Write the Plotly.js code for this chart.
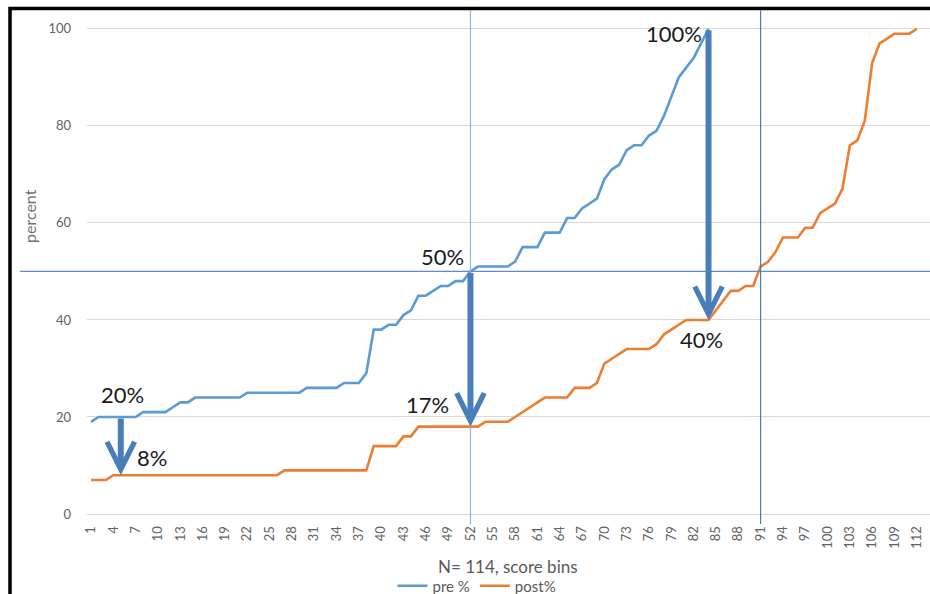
<!DOCTYPE html>
<html><head><meta charset="utf-8">
<script src="https://cdn.plot.ly/plotly-3.0.1.min.js"></script>
<style>html,body{margin:0;padding:0;background:#fff;}#chart{width:930px;height:594px;}</style>
</head><body><div id="chart"></div>
<script>
// ---- data ----
const bins = [1,2,3,4,5,6,7,8,9,10,11,12,13,14,15,16,17,18,19,20,21,22,23,24,25,26,27,28,29,30,31,32,33,34,35,36,37,38,39,40,41,42,43,44,45,46,47,48,49,50,51,52,53,54,55,56,57,58,59,60,61,62,63,64,65,66,67,68,69,70,71,72,73,74,75,76,77,78,79,80,81,82,83,84,85,86,87,88,89,90,91,92,93,94,95,96,97,98,99,100,101,102,103,104,105,106,107,108,109,110,111,112];
const pre = [19,20,20,20,20,20,20,21,21,21,
             21,22,23,23,24,24,24,24,24,24,
             24,25,25,25,25,25,25,25,25,26,
             26,26,26,26,27,27,27,29,38,38,
             39,39,41,42,45,45,46,47,47,48,
             48,50,51,51,51,51,51,52,55,55,
             55,58,58,58,61,61,63,64,65,69,
             71,72,75,76,76,78,79,82,86,90,
             92,94,97,100];
const post = [7,7,7,8,8,8,8,8,8,8,
              8,8,8,8,8,8,8,8,8,8,
              8,8,8,8,8,8,9,9,9,9,
              9,9,9,9,9,9,9,9,14,14,
              14,14,16,16,18,18,18,18,18,18,
              18,18,18,19,19,19,19,20,21,22,
              23,24,24,24,24,26,26,26,27,31,
              32,33,34,34,34,34,35,37,38,39,
              40,40,40,40,42,44,46,46,47,47,
              51,52,54,57,57,57,59,59,62,63,
              64,67,76,77,81,93,97,98,99,99,
              99,100];
const tickBins = [1,4,7,10,13,16,19,22,25,28,31,34,37,40,43,46,49,52,55,58,61,64,67,70,73,76,79,82,85,88,91,94,97,100,103,106,109,112];
const yTicks = [0,20,40,60,80,100];
const seriesNames = ['pre %','post%'];
const arrowBins = [5,52,84];
const tailLabels = ['20%','50%','100%'];
const headLabels = ['8%','17%','40%'];
const markBins = [52,91];
const midLevel = 50;
const xTitle = 'N= 114, score bins';
const yTitle = 'percent';

// ---- layout helpers ----
const L = 87, T = 24, B = 80, R = 0, W = 930, H = 594;
const plotH = H - T - B, plotW = W - L - R;
const px2paperX = p => (p - L) / plotW;
const px2paperY = p => (H - B - p) / plotH;

const tailShift = [[2,22],[-28,15],[-35,-5]];
const headShift = [[31,18],[-43,22],[-7,-20]];
const blue = '#4A7EBB';
const gray = '#626262';

const traces = [
  {x: bins.slice(0, pre.length), y: pre, name: seriesNames[0], type: 'scatter', mode: 'lines',
   line: {color: '#5B9BD5', width: 2.6}},
  {x: bins, y: post, name: seriesNames[1], type: 'scatter', mode: 'lines',
   line: {color: '#ED7D31', width: 2.6}}
];

const annotations = [];
arrowBins.forEach((b, i) => {
  const top = pre[b - 1], bot = post[b - 1];
  annotations.push({x: b, y: bot, ax: b, ay: top, xref: 'x', yref: 'y', axref: 'x', ayref: 'y',
    text: '', font: {size: 1}, showarrow: true, arrowhead: 5, arrowsize: 0.9, arrowwidth: 6,
    arrowcolor: blue, standoff: 0, startstandoff: 0});
  annotations.push({x: b, y: top, xref: 'x', yref: 'y', text: tailLabels[i], showarrow: false,
    xshift: tailShift[i][0], yshift: tailShift[i][1],
    font: {family: 'Lato', size: 22, color: '#1a1a1a'}});
  annotations.push({x: b, y: bot, xref: 'x', yref: 'y', text: headLabels[i], showarrow: false,
    xshift: headShift[i][0], yshift: headShift[i][1],
    font: {family: 'Lato', size: 22, color: '#1a1a1a'}});
});
annotations.push({xref: 'paper', yref: 'paper', x: px2paperX(29), y: px2paperY(216), text: yTitle,
  xanchor: 'center', yanchor: 'middle',
  textangle: -90, showarrow: false, font: {family: 'Lato', size: 16, color: '#707070'}});
annotations.push({xref: 'paper', yref: 'paper', x: px2paperX(508), y: px2paperY(566), text: xTitle,
  xanchor: 'center', yanchor: 'middle', borderpad: 0,
  showarrow: false, font: {family: 'Lato', size: 17, color: '#595959'}});

const shapes = [
  {type: 'rect', xref: 'paper', yref: 'paper', x0: px2paperX(10), x1: 1.3, y0: -0.5, y1: px2paperY(8.5),
   line: {color: '#000', width: 3.5}, fillcolor: 'rgba(0,0,0,0)'},
  {type: 'line', xref: 'paper', yref: 'y', x0: px2paperX(20), x1: 1.05, y0: midLevel, y1: midLevel,
   line: {color: '#5B8BD0', width: 1.2}},
  {type: 'line', xref: 'x', yref: 'paper', x0: markBins[0], x1: markBins[0], y0: px2paperY(524), y1: px2paperY(10),
   line: {color: '#8EB4E3', width: 1.2}},
  {type: 'line', xref: 'x', yref: 'paper', x0: markBins[1], x1: markBins[1], y0: px2paperY(524), y1: px2paperY(10),
   line: {color: '#4A7EBB', width: 1.2}}
];

const layout = {
  width: W, height: H,
  margin: {l: L, r: R, t: T, b: B, autoexpand: false},
  paper_bgcolor: '#fff', plot_bgcolor: '#fff',
  showlegend: true,
  legend: {orientation: 'h', x: px2paperX(477), xanchor: 'center', y: px2paperY(586), yanchor: 'middle',
    font: {family: 'Lato', size: 15, color: '#595959'}, bgcolor: 'rgba(0,0,0,0)', tracegroupgap: 0,
    itemwidth: 30},
  xaxis: {range: [0.46, 113.77], tickmode: 'array', tickvals: tickBins, ticktext: tickBins.map(String),
    tickangle: -90, showgrid: false, zeroline: false, showline: true, linecolor: '#d9d9d9', linewidth: 1,
    ticks: '', tickfont: {family: 'Lato', size: 13, color: gray}, ticklabelstandoff: 6, fixedrange: true},
  yaxis: {range: [0, 101], tickmode: 'array', tickvals: yTicks, showgrid: true, gridcolor: '#d9d9d9', gridwidth: 1,
    zeroline: false, showline: false, ticks: '', tickfont: {family: 'Lato', size: 13, color: gray},
    ticklabelstandoff: 15, fixedrange: true},
  annotations: annotations,
  shapes: shapes
};

Plotly.newPlot('chart', traces, layout, {displayModeBar: false, staticPlot: true});
</script>
</body></html>
